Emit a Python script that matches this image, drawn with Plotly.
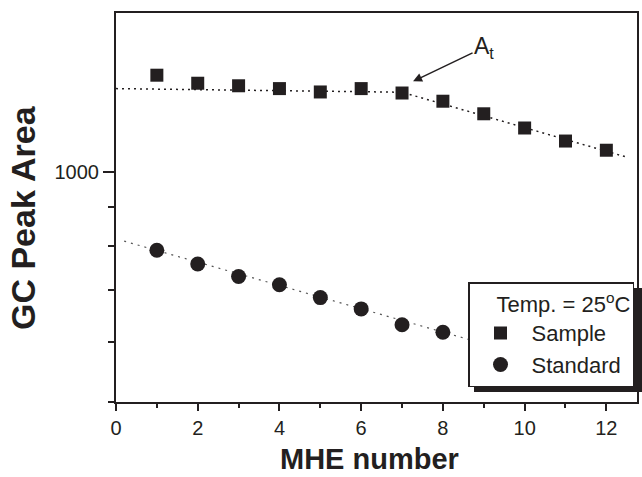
import plotly.graph_objects as go

# Data
mhe = [1, 2, 3, 4, 5, 6, 7, 8, 9, 10, 11, 12]
sample_area = [1339, 1307, 1297, 1286, 1273, 1286, 1269, 1238, 1192, 1142, 1098, 1068]
std_x = [1, 2, 3, 4, 5, 6, 7, 8]
standard_area = [790, 758, 730, 712, 685, 662, 631, 617]

sample_fit_x = [0, 7, 12.5]
sample_fit_y = [1286, 1272, 1046]
std_fit_x = [0.2, 12.5]
std_fit_y = [812, 527]

y_major = [1000]
y_minor = [500, 600, 700, 800, 900]

INK = "#231f20"
FONT = "Liberation Sans, Arial, sans-serif"

W, H = 642, 477
L, R, T, B = 116, 5, 13, 75
PW, PH = W - L - R, H - T - B


def px(xp):
    return (xp - L) / PW


def py(yp):
    return (H - B - yp) / PH


fig = go.Figure()
fig.add_trace(go.Scatter(x=sample_fit_x, y=sample_fit_y, mode="lines",
                         line=dict(color=INK, width=1.5, dash="2px,4px"),
                         showlegend=False, hoverinfo="skip"))
fig.add_trace(go.Scatter(x=std_fit_x, y=std_fit_y, mode="lines",
                         line=dict(color="#555555", width=1.2, dash="2px,5px"),
                         showlegend=False, hoverinfo="skip"))
fig.add_trace(go.Scatter(x=mhe, y=sample_area, mode="markers", name="Sample",
                         marker=dict(symbol="square", size=13, color=INK)))
fig.add_trace(go.Scatter(x=std_x, y=standard_area, mode="markers",
                         name="Standard\u00a0",
                         marker=dict(symbol="circle", size=15, color=INK)))

fig.update_layout(
    width=W, height=H,
    margin=dict(l=L, r=R, t=T, b=B, autoexpand=False),
    paper_bgcolor="white", plot_bgcolor="white",
    font=dict(family=FONT, size=20, color=INK),
    legend=dict(
        x=px(468), y=py(282), xanchor="left", yanchor="top",
        bgcolor="white", bordercolor=INK, borderwidth=1.5,
        font=dict(size=22, color=INK),
        title=dict(text="Temp. = 25<sup>o</sup>C", side="top right",
                   font=dict(size=22, color=INK)),
        itemwidth=52, tracegroupgap=0,
    ),
    xaxis=dict(
        range=[0, 12.75], tickmode="linear", tick0=0, dtick=2,
        ticks="outside", ticklen=7, tickwidth=1.5, tickcolor=INK,
        showline=True, linecolor=INK, linewidth=2, mirror=True,
        showgrid=False, zeroline=False,
        tickfont=dict(size=20),
        minor=dict(dtick=1, tick0=0, ticks="outside", ticklen=4, tickwidth=1.5, tickcolor=INK),
    ),
    yaxis=dict(
        type="log", range=[2.699, 3.2082],
        tickmode="array", tickvals=y_major, ticktext=[str(v) for v in y_major],
        ticks="outside", ticklen=11, tickwidth=1.5, tickcolor=INK,
        showline=True, linecolor=INK, linewidth=2, mirror=True,
        showgrid=False, zeroline=False,
        tickfont=dict(size=20),
        minor=dict(tickmode="array", tickvals=y_minor, ticks="outside", ticklen=6,
                   tickwidth=1.5, tickcolor=INK),
    ),
    shapes=[
        dict(type="rect", xref="paper", yref="paper",
             x0=px(474), x1=px(642), y0=py(392), y1=py(288),
             fillcolor=INK, line=dict(width=0), layer="above"),
    ],
    annotations=[
        dict(x=7.27, y=3.1187, xref="x", yref="y", text="A<sub>t</sub>",
             showarrow=True, ax=71, ay=-34, arrowhead=2, arrowsize=1.2,
             arrowwidth=1.5, arrowcolor=INK, font=dict(size=23, color=INK)),
        dict(x=px(369), y=py(459), xref="paper", yref="paper", text="<b>MHE number</b>",
             showarrow=False, yanchor="middle", font=dict(size=29, color=INK)),
        dict(x=px(23), y=py(218), xref="paper", yref="paper", text="<b>GC Peak Area</b>",
             showarrow=False, textangle=-90, xanchor="center",
             font=dict(size=34, color=INK)),
    ],
)

fig.write_html(
    "out.html",
    config={"displayModeBar": False},
    post_script="document.body.style.margin='0';document.body.style.overflow='hidden';",
)
